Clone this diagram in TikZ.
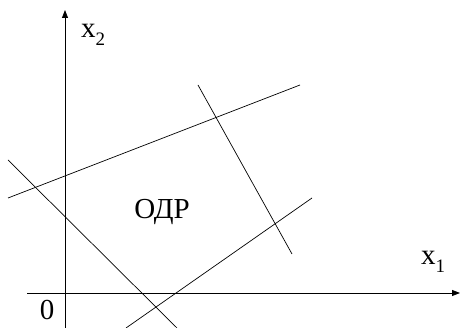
\documentclass[tikz,border=0pt]{standalone}
\usepackage{fontspec}
\setmainfont{Liberation Serif}
\usetikzlibrary{arrows.meta}

\newcommand{\axlabel}[1]{x\raisebox{-0.25em}{\fontsize{19}{22}\selectfont #1}}

\begin{document}
\begin{tikzpicture}[
      x=1pt, y=-1pt,
      >={Triangle[length=8pt,width=6pt]},
      font=\fontsize{29}{33}\selectfont,
      axis/.style={line width=0.8pt},
      bound/.style={line width=0.7pt},
      lbl/.style={inner sep=0pt},
  ]
  \useasboundingbox (0,0) rectangle (461,328);

  % origin and axes
  \coordinate (O) at (65,293);
  \coordinate (ytop) at (65,10);
  \coordinate (ybot) at (65,328);
  \coordinate (xleft) at (27,293);
  \coordinate (xright) at (460,293);
  \draw[axis, ->] (ybot) -- (ytop);
  \draw[axis, ->] (xleft) -- (xright);

  % constraint lines
  \coordinate (a1) at (8,198);   \coordinate (a2) at (300,85);
  \coordinate (b1) at (198,85);  \coordinate (b2) at (292,254);
  \coordinate (c1) at (126,328); \coordinate (c2) at (312,198);
  \coordinate (d1) at (8,160);   \coordinate (d2) at (177,328);
  \draw[bound] (a1) -- (a2);
  \draw[bound] (b1) -- (b2);
  \draw[bound] (c1) -- (c2);
  \draw[bound] (d1) -- (d2);

  % labels
  \node[lbl, anchor=base west] (x2lbl) at (81,38) {\axlabel{2}};
  \node[lbl, anchor=base west] (x1lbl) at (421,265) {\axlabel{1}};
  \node[lbl, anchor=base] (zero) at (47,320) {0};
  \node[lbl, anchor=base] (odr) at (162,219) {ОДР};
\end{tikzpicture}
\end{document}
